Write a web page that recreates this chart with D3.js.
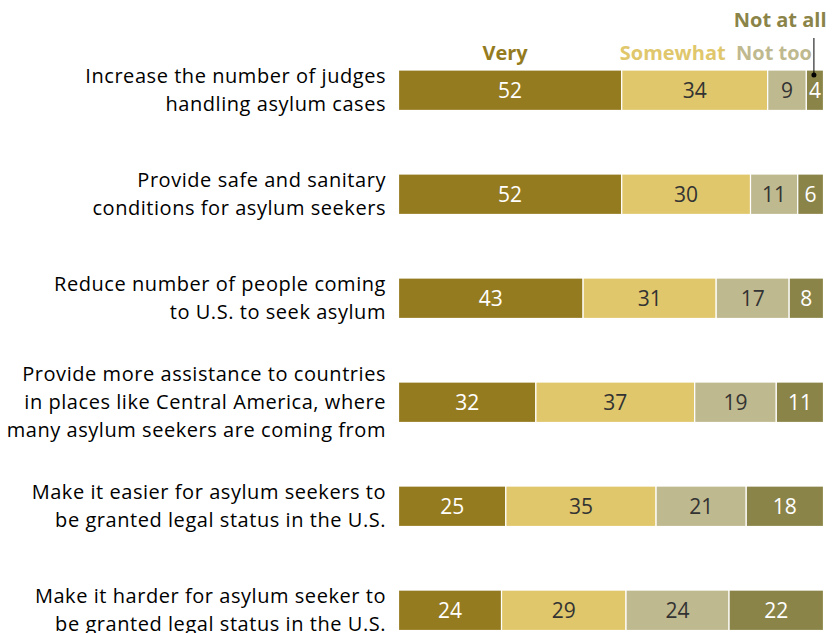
<!DOCTYPE html>
<html>
<head>
<meta charset="utf-8">
<script src="https://cdn.jsdelivr.net/npm/d3@7"></script>
<style>
  html, body { margin: 0; padding: 0; background: #fff; }
  svg { display: block; }
  text { font-family: "Open Sans", Roboto, "Liberation Sans", sans-serif; }
</style>
</head>
<body>
<svg id="chart" width="835" height="633"></svg>
<script>
// Survey items (each label split into its display lines)
const categories = [
  ["Increase the number of judges", "handling asylum cases"],
  ["Provide safe and sanitary", "conditions for asylum seekers"],
  ["Reduce number of people coming", "to U.S. to seek asylum"],
  ["Provide more assistance to countries", "in places like Central America, where", "many asylum seekers are coming from"],
  ["Make it easier for asylum seekers to", "be granted legal status in the U.S."],
  ["Make it harder for asylum seeker to", "be granted legal status in the U.S."]
];
const seriesNames = ["Very", "Somewhat", "Not too", "Not at all"];
const very     = [52, 52, 43, 32, 25, 24];
const somewhat = [34, 30, 31, 37, 35, 29];
const notToo   = [9, 11, 17, 19, 21, 24];
const notAtAll = [4, 6, 8, 11, 18, 22];

const colors = ["#957b20", "#e0c76c", "#bfb98f", "#8b8449"];
const numberColors = ["#ffffff", "#333333", "#333333", "#ffffff"];

const svg = d3.select("#chart");

const rows = categories.map((c, i) => ({
  idx: i, lines: c,
  values: [very[i], somewhat[i], notToo[i], notAtAll[i]]
}));

const x = d3.scaleLinear().domain([0, 99]).range([398.5, 823.5]);
const y = d3.scaleBand().domain(d3.range(rows.length)).range([70, 630.5]).paddingInner(0.611).paddingOuter(0);

const bh = y.bandwidth();

const g = svg.append("g");

rows.forEach(r => {
  let acc = 0;
  const segs = r.values.map((v, k) => {
    const s = { k, v, x0: acc, x1: acc + v };
    acc += v;
    return s;
  });
  const row = g.append("g").attr("transform", `translate(0,${y(r.idx)})`);
  row.selectAll("rect").data(segs).join("rect")
    .attr("x", d => x(d.x0))
    .attr("width", d => x(d.x1) - x(d.x0))
    .attr("y", 0)
    .attr("height", bh)
    .attr("fill", d => colors[d.k])
    .attr("stroke", "#fff")
    .attr("stroke-width", 1.2);
  row.selectAll("text.num").data(segs).join("text")
    .attr("class", "num")
    .attr("x", d => (x(d.x0) + x(d.x1)) / 2)
    .attr("y", bh / 2)
    .attr("dy", "0.36em")
    .attr("text-anchor", "middle")
    .attr("font-size", 21)
    .attr("fill", d => numberColors[d.k])
    .text(d => d.v);

  // Category label, lines centred vertically on the bar
  const lh = 28;
  const n = r.lines.length;
  row.append("text")
    .attr("text-anchor", "end")
    .attr("font-size", 20)
    .attr("letter-spacing", 0.55)
    .attr("fill", "#000")
    .selectAll("tspan").data(r.lines).join("tspan")
    .attr("x", 386)
    .attr("y", (d, j) => bh / 2 + (j - (n - 1) / 2) * lh)
    .attr("dy", "0.36em")
    .text(d => d);
});

// Legend above the first bar; labels nudged left so they don't collide
const first = rows[0];
let cum = 0;
const mids = first.values.map(v => { const m = cum + v / 2; cum += v; return m; });
const nudge = [-5, -22, -13];
const legend = svg.append("g").attr("font-weight", "bold").attr("font-size", 20);
[0, 1, 2].forEach(k => {
  legend.append("text")
    .attr("x", x(mids[k]) + nudge[k])
    .attr("y", 60)
    .attr("text-anchor", "middle")
    .attr("fill", colors[k])
    .text(seriesNames[k]);
});
legend.append("text")
  .attr("x", x(99) + 3)
  .attr("y", 27)
  .attr("text-anchor", "end")
  .attr("fill", colors[3])
  .text(seriesNames[3]);

// Leader from "Not at all" down to its segment
const lx = x(mids[3]) - 1;
svg.append("line")
  .attr("x1", lx).attr("x2", lx)
  .attr("y1", 38).attr("y2", 75)
  .attr("stroke", "#000").attr("stroke-width", 1);
svg.append("circle")
  .attr("cx", lx).attr("cy", 75).attr("r", 2.5).attr("fill", "#000");
</script>
</body>
</html>
